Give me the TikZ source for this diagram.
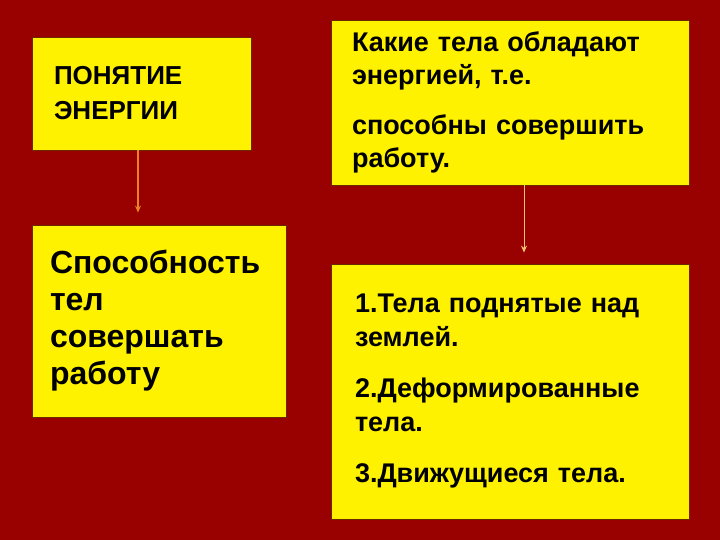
\documentclass[tikz,border=0pt]{standalone}
\usepackage{fontspec}
\setmainfont{Liberation Sans}
\usetikzlibrary{arrows.meta}
\definecolor{slidebg}{RGB}{153,0,0}
\definecolor{boxline}{RGB}{110,40,0}
\definecolor{arrowA}{RGB}{232,130,42}
\definecolor{arrowB}{RGB}{245,192,112}
\tikzset{
  box/.style={draw=boxline, fill=yellow, line width=0.8pt, align=left,
    font=\bfseries, text=black, inner ysep=0pt},
  link/.style={draw, line width=1.4pt, -{Stealth[length=7pt,width=6pt]}}
}
\begin{document}
\begin{tikzpicture}[x=1pt,y=-1pt]
\path[fill=slidebg] (0,0) rectangle (720,540);
\useasboundingbox (0,0) rectangle (720,540);

\node[box, minimum width=219pt, minimum height=113pt, inner xsep=22pt, text width=175pt,
  font=\bfseries\fontsize{26}{35}\selectfont] (notion) at (141.5,93.5)
  {ПОНЯТИЕ\\ЭНЕРГИИ};
\node[box, minimum width=358pt, minimum height=165pt, inner xsep=21pt, text width=316pt,
  font=\bfseries\fontsize{27}{33}\selectfont] (which) at (510,102.5)
  {Какие тела обладают\\энергией, т.е.\\[17pt]способны совершить\\работу.};
\node[box, minimum width=254pt, minimum height=192pt, inner xsep=18pt, text width=218pt,
  font=\bfseries\fontsize{32}{37}\selectfont] (ability) at (159,321)
  {Способность\\тел\\совершать\\работу};
\node[box, minimum width=358pt, minimum height=255pt, inner xsep=24pt, text width=310pt,
  font=\bfseries\fontsize{27}{34}\selectfont] (bodies) at (510,391.5)
  {1.Тела поднятые над\\землей.\\[17pt]2.Деформированные\\тела.\\[17pt]3.Движущиеся тела.};

\coordinate (fromnotion) at ([xshift=-3.5pt]notion.south);
\coordinate (fromwhich) at ([xshift=14pt]which.south);
\path[link,arrowA,shorten >=12pt] (fromnotion) -- (fromnotion |- ability.north);
\path[link,arrowB,line width=1pt,shorten >=11pt] (fromwhich) -- (fromwhich |- bodies.north);
\end{tikzpicture}
\end{document}
